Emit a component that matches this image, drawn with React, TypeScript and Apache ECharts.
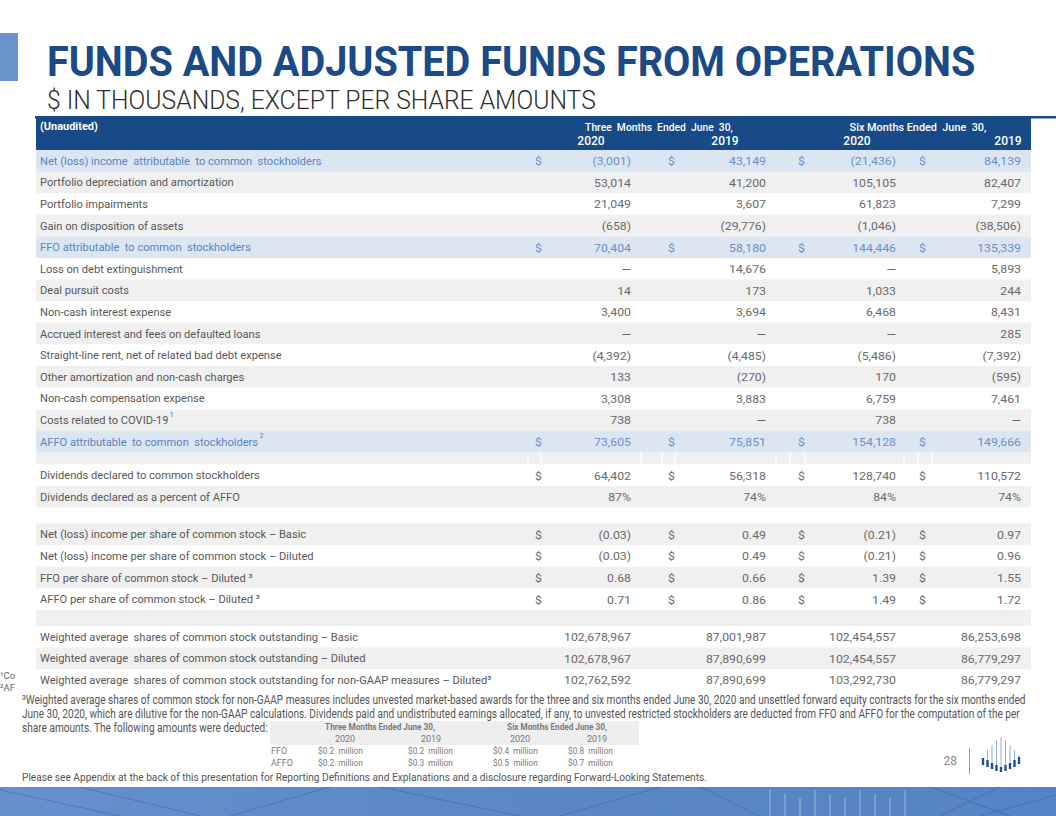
import React, { useEffect, useRef } from "react";
import * as echarts from "echarts";

// ---------- DATA ----------
const title = "FUNDS AND ADJUSTED FUNDS FROM OPERATIONS";
const subtitle = "$ IN THOUSANDS, EXCEPT PER SHARE AMOUNTS";
const cornerLabel = "(Unaudited)";
const periodHeaders = ["Three  Months  Ended  June  30,", "Six Months Ended  June  30,"];
const yearHeaders = ["2020", "2019", "2020", "2019"];

const rowLabels = [
  "Net (loss) income  attributable  to common  stockholders",
  "Portfolio depreciation and amortization",
  "Portfolio impairments",
  "Gain on disposition of assets",
  "FFO attributable  to common  stockholders",
  "Loss on debt extinguishment",
  "Deal pursuit costs",
  "Non-cash interest expense",
  "Accrued interest and fees on defaulted loans",
  "Straight-line rent, net of related bad debt expense",
  "Other amortization and non-cash charges",
  "Non-cash compensation expense",
  "Costs related to COVID-19",
  "AFFO attributable  to common  stockholders",
  "",
  "Dividends declared to common stockholders",
  "Dividends declared as a percent of AFFO",
  "",
  "Net (loss) income per share of common stock – Basic",
  "Net (loss) income per share of common stock – Diluted",
  "FFO per share of common stock – Diluted ³",
  "AFFO per share of common stock – Diluted ³",
  "",
  "Weighted average  shares of common stock outstanding – Basic",
  "Weighted average  shares of common stock outstanding – Diluted",
  "Weighted average  shares of common stock outstanding for non-GAAP measures – Diluted³",
];
const rowNotes = ["", "", "", "", "", "", "", "", "", "", "", "", "1", "2", "", "", "", "", "", "", "", "", "", "", "", ""];
const rowFormat = [
  "int", "int", "int", "int", "int", "int", "int", "int", "int", "int", "int", "int", "int", "int",
  "gap", "int", "pct", "gap", "eps", "eps", "eps", "eps", "gap", "int", "int", "int",
];
const rowDollar = [1, 0, 0, 0, 1, 0, 0, 0, 0, 0, 0, 0, 0, 1, 0, 1, 0, 0, 1, 1, 1, 1, 0, 0, 0, 0];
const rowTotal = [1, 0, 0, 0, 1, 0, 0, 0, 0, 0, 0, 0, 0, 1, 0, 0, 0, 0, 0, 0, 0, 0, 0, 0, 0, 0];

const q2020 = [-3001, 53014, 21049, -658, 70404, null, 14, 3400, null, -4392, 133, 3308, 738, 73605, null, 64402, 87, null, -0.03, -0.03, 0.68, 0.71, null, 102678967, 102678967, 102762592];
const q2019 = [43149, 41200, 3607, -29776, 58180, 14676, 173, 3694, null, -4485, -270, 3883, null, 75851, null, 56318, 74, null, 0.49, 0.49, 0.66, 0.86, null, 87001987, 87890699, 87890699];
const s2020 = [-21436, 105105, 61823, -1046, 144446, null, 1033, 6468, null, -5486, 170, 6759, 738, 154128, null, 128740, 84, null, -0.21, -0.21, 1.39, 1.49, null, 102454557, 102454557, 103292730];
const s2019 = [84139, 82407, 7299, -38506, 135339, 5893, 244, 8431, 285, -7392, -595, 7461, null, 149666, null, 110572, 74, null, 0.97, 0.96, 1.55, 1.72, null, 86253698, 86779297, 86779297];

const footnote1 = "¹Co";
const footnote2 = "²AF";
const footnote3 = [
  "³Weighted average shares of common stock for non-GAAP measures includes unvested market-based awards for the three and six months ended June 30, 2020 and unsettled forward equity contracts for the six months ended",
  "June 30, 2020, which are dilutive for the non-GAAP calculations. Dividends paid and undistributed earnings allocated, if any, to unvested restricted stockholders are deducted from FFO and AFFO for the computation of the per",
  "share amounts. The following amounts were deducted:",
];
const deductionPeriods = ["Three Months Ended June 30,", "Six Months Ended June 30,"];
const deductionLabels = ["FFO", "AFFO"];
const deductionFFO = [0.2, 0.2, 0.4, 0.8];
const deductionAFFO = [0.2, 0.3, 0.5, 0.7];
const disclaimer =
  "Please see Appendix at the back of this presentation for Reporting Definitions and Explanations and a disclosure regarding Forward-Looking Statements.";
const pageNumber = "28";

// ---------- LAYOUT / STYLE ----------
const FAM = "Roboto";
const ROW_SHADE = "BgwgBwgwgwgwgBgwgwgwgwgwgw";
const GAP_H = [12, 16, 16];
const ROW_H = 21.6;

const ctx = document.createElement("canvas").getContext("2d") as CanvasRenderingContext2D;
function tw(t: string, size: number, weight: string | number = "normal", fam = FAM) {
  ctx.font = `${weight} ${size}px ${fam}`;
  return ctx.measureText(t).width;
}
function fit(t: string, size: number, weight: string | number, target: number, fam = FAM) {
  return target / tw(t, size, weight, fam);
}

function fmt(v: number | null, kind: string) {
  if (v === null || v === undefined) return "—";
  if (kind === "pct") return `${v}%`;
  if (kind === "eps") return v < 0 ? `(${Math.abs(v).toFixed(2)})` : v.toFixed(2);
  const s = Math.abs(v).toLocaleString("en-US");
  return v < 0 ? `(${s})` : s;
}

function buildElements() {
  const els: any[] = [];
  const rect = (x: number, y: number, w: number, h: number, fill: any) =>
    els.push({ type: "rect", silent: true, shape: { x, y, width: w, height: h }, style: { fill } });
  const text = (x: number, y: number, t: string, o: any) =>
    els.push({
      type: "text",
      silent: true,
      x,
      y,
      scaleX: o.sx ?? 1,
      style: {
        text: t,
        fontSize: o.size,
        fontFamily: o.fam ?? FAM,
        fontWeight: o.weight ?? "normal",
        fill: o.fill,
        align: o.align ?? "left",
        verticalAlign: o.va ?? "middle",
      },
    });
  const line = (x1: number, y1: number, x2: number, y2: number, stroke: string, lw = 1) =>
    els.push({ type: "line", silent: true, shape: { x1, y1, x2, y2 }, style: { stroke, lineWidth: lw } });

  // page background
  rect(0, 0, 1056, 816, "#ffffff");

  // title block
  rect(0, 33, 18, 48, "#6a93cc");
  text(47, 62, title, { size: 42, weight: "bold", fill: "#1b4a85", sx: fit(title, 42, "bold", 928) });
  text(47, 100, subtitle, { size: 25, weight: 300, fill: "#2e2e2e", sx: fit(subtitle, 25, 300, 550) });
  rect(35, 116, 1021, 2.5, "#174a87");

  // table header
  const TX0 = 36, TX1 = 1031;
  rect(TX0, 118, TX1 - TX0, 32, "#174a87");
  text(40, 127, cornerLabel, { size: 10.5, weight: "bold", fill: "#ffffff", sx: fit(cornerLabel, 10.5, "bold", 58) });
  const periodCx = [659, 918];
  const periodW = [148, 137];
  periodHeaders.forEach((p, i) =>
    text(periodCx[i], 127, p, { size: 11, weight: 500, fill: "#ffffff", align: "center", sx: fit(p, 11, 500, periodW[i]) })
  );
  const yearCx = [591, 725, 857, 1008];
  yearHeaders.forEach((yh, i) => text(yearCx[i], 141, yh, { size: 12, weight: 500, fill: "#ffffff", align: "center" }));

  // rows
  const labelSX = fit("Portfolio depreciation and amortization", 11.5, "normal", 194);
  const numSX = fit("102,678,967", 11.5, "normal", 67);
  const colRight = [631, 766, 896, 1021];
  const dollarX = [535, 668, 798, 919];
  const cols = [q2020, q2019, s2020, s2019];
  let y = 150;
  let gapIdx = 0;
  rowLabels.forEach((lab, i) => {
    const kind = rowFormat[i];
    const h = kind === "gap" ? GAP_H[gapIdx++] : ROW_H;
    const shade = ROW_SHADE[i];
    const fill = shade === "B" ? "#dce6f2" : shade === "g" ? "#f0f0f0" : "#ffffff";
    rect(TX0, y, TX1 - TX0, h + 0.4, fill);
    if (kind === "gap") {
      if (i === 14) {
        [528, 541, 641, 662, 675, 776, 790, 805, 904, 918, 932].forEach((vx) => line(vx, y, vx, y + h, "#ffffff", 1.2));
      }
    } else {
      const cy = y + h / 2 + 0.5;
      const total = rowTotal[i] === 1;
      const lf = total ? "#5b82c1" : "#585858";
      const nf = total ? "#6b8fc9" : "#6a6a6a";
      text(40, cy, lab, { size: 11.5, fill: lf, sx: labelSX });
      if (rowNotes[i]) {
        const lw = tw(lab, 11.5) * labelSX;
        text(40 + lw + 1, cy - 6, rowNotes[i], { size: 7, fill: lf });
      }
      cols.forEach((col, c) => {
        text(colRight[c], cy, fmt(col[i] as number | null, kind), { size: 11.5, fill: nf, align: "right", sx: numSX });
        if (rowDollar[i]) text(dollarX[c], cy, "$", { size: 11.5, fill: nf, sx: numSX });
      });
    }
    y += h;
  });

  // footnotes
  text(0, 675, footnote1, { size: 9.5, fill: "#666666" });
  text(0, 687, footnote2, { size: 9.5, fill: "#666666" });
  const fnTargets = [1004, 998, 246];
  const fnY = [700, 714, 728];
  footnote3.forEach((t, i) => text(22, fnY[i], t, { size: 12, fill: "#555555", sx: fit(t, 12, "normal", fnTargets[i]) }));

  // deduction table
  rect(270, 721, 369, 24, "#eeeeee");
  const dpCx = [380, 557];
  const dpW = [110, 100];
  deductionPeriods.forEach((p, i) =>
    text(dpCx[i], 727, p, { size: 9, weight: "bold", fill: "#7a7a7a", align: "center", sx: fit(p, 9, "bold", dpW[i]) })
  );
  const dyCx = [345, 431, 520, 597];
  yearHeaders.forEach((yh, i) => text(dyCx[i], 739, yh, { size: 9, fill: "#7a7a7a", align: "center" }));
  const dvX = [318, 408, 493, 568];
  [deductionFFO, deductionAFFO].forEach((vals, r) => {
    const ry = 751 + r * 12;
    text(271, ry, deductionLabels[r], { size: 9, fill: "#7a7a7a" });
    vals.forEach((v, c) => text(dvX[c], ry, `$${v.toFixed(1)}  million`, { size: 9, fill: "#7a7a7a", sx: 0.92 }));
  });

  text(22, 777, disclaimer, { size: 11.5, fill: "#555555", sx: fit(disclaimer, 11.5, "normal", 686) });

  // page number + logo
  text(957, 761, pageNumber, { size: 12, fill: "#888888", align: "right" });
  line(969.5, 748, 969.5, 774, "#9a9a9a", 1);
  const bx = [983, 987.5, 992, 996.5, 1001, 1005.5, 1010, 1014.5, 1019];
  const topY = [758, 750, 745, 740, 737, 740, 745, 750, 755];
  const darkTop = [758, 760, 763, 765, 767, 765, 763, 760, 757];
  const darkBot = [765, 767, 769, 771, 772, 771, 769, 767, 764];
  bx.forEach((x, i) => {
    if (topY[i] < darkTop[i]) line(x, topY[i], x, darkTop[i], "#8fb0dd", 1);
    rect(x - 1.2, darkTop[i], 2.4, darkBot[i] - darkTop[i], "#1f4f8f");
  });

  // bottom decorative band
  rect(0, 787, 1056, 29, {
    type: "linear", x: 0, y: 0, x2: 1, y2: 0,
    colorStops: [
      { offset: 0, color: "#6690cd" },
      { offset: 0.5, color: "#5b87c7" },
      { offset: 1, color: "#5683c5" },
    ],
  });
  const dark = "rgba(40,80,150,0.35)";
  const light = "rgba(255,255,255,0.35)";
  [[0, 790, 120, 816], [80, 787, 200, 816], [230, 816, 330, 787], [380, 787, 520, 816], [560, 816, 660, 787],
   [700, 787, 760, 816], [930, 787, 1010, 816], [1000, 787, 940, 816], [980, 816, 1056, 795]].forEach(
    ([a, b, c, d]) => line(a, b, c, d, dark, 1)
  );
  [770, 785, 800, 815, 830, 845, 860, 875, 890, 905].forEach((x, i) =>
    line(x, 790 + (i % 3) * 4, x, 816, light, 1.2)
  );

  return els;
}

export default function App() {
  const ref = useRef<HTMLDivElement>(null);
  useEffect(() => {
    document.body.style.margin = "0";
    if (!ref.current) return;
    const chart = echarts.init(ref.current, undefined, { renderer: "svg" });
    chart.setOption({
      animation: false,
      backgroundColor: "#ffffff",
      graphic: { elements: buildElements() },
    });
    return () => chart.dispose();
  }, []);
  return (
    <div
      ref={ref}
      style={{ position: "absolute", left: 0, top: 0, width: 1056, height: 816 }}
    />
  );
}
